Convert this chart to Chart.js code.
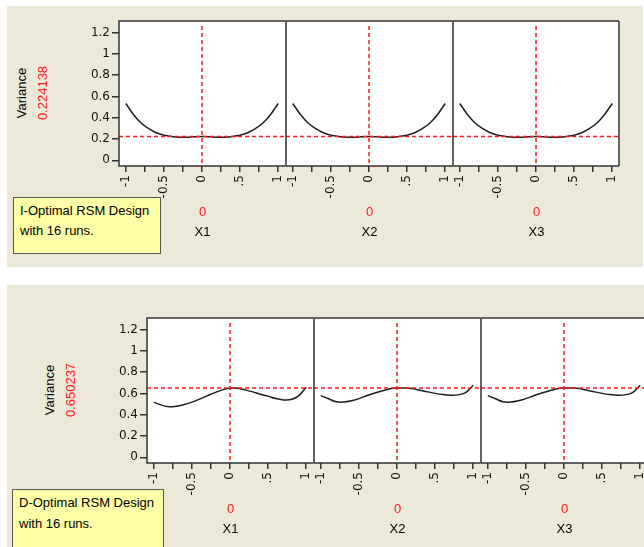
<!doctype html>
<html>
<head>
<meta http-equiv="Content-Type" content="text/html;charset=utf-8" />
<title>Prediction variance profiles</title>
<script src="https://cdn.jsdelivr.net/npm/chart.js@4.4.0/dist/chart.umd.min.js"></script>
<style>
body { margin:0; background:#fff; overflow:hidden; width:644px; height:547px; position:relative;
  font:13px "Liberation Sans", Arial, sans-serif; color:#000; }
.panel { position:absolute; background:#ece9d8; }
.plot { position:absolute; }
.note { position:absolute; background:#ffffa8; border:1px solid #555; box-sizing:border-box; padding-left:6px; }
.lbl { position:absolute; white-space:nowrap; transform:translate(-50%,-50%); }
.rot { transform:translate(-50%,-50%) rotate(-90deg); }
.red { color:#ff1a1a; }
</style>
</head>
<body>

<div class="panel" style="left:7px;top:6px;width:636px;height:261px"></div>
<div class="panel" style="left:7px;top:285px;width:637px;height:262px"></div>

<script>
// factor grid the curves were read at
var xGrid = [-1, -0.9, -0.8, -0.7, -0.6, -0.5, -0.4, -0.3, -0.2, -0.1, 0, 0.1, 0.2, 0.3, 0.4, 0.5, 0.6, 0.7, 0.8, 0.9, 1];

// I-optimal design, prediction variance profile
var iVarX1 = [0.533, 0.43, 0.35, 0.297, 0.259, 0.236, 0.224, 0.217, 0.216, 0.221, 0.224, 0.221, 0.216, 0.217, 0.224, 0.236, 0.259, 0.297, 0.35, 0.43, 0.533];
var iVarX2 = [0.533, 0.43, 0.35, 0.297, 0.259, 0.236, 0.224, 0.217, 0.216, 0.221, 0.224, 0.221, 0.216, 0.217, 0.224, 0.236, 0.259, 0.297, 0.35, 0.43, 0.533];
var iVarX3 = [0.533, 0.43, 0.35, 0.297, 0.259, 0.236, 0.224, 0.217, 0.216, 0.221, 0.224, 0.221, 0.216, 0.217, 0.224, 0.236, 0.259, 0.297, 0.35, 0.43, 0.533];

// D-optimal design, prediction variance profile
var dVarX1 = [0.518, 0.49, 0.474, 0.48, 0.495, 0.518, 0.546, 0.577, 0.607, 0.633, 0.648, 0.648, 0.633, 0.614, 0.592, 0.574, 0.551, 0.539, 0.542, 0.577, 0.658];
var dVarX2 = [0.579, 0.549, 0.521, 0.518, 0.53, 0.551, 0.577, 0.602, 0.623, 0.642, 0.65, 0.65, 0.645, 0.63, 0.614, 0.6, 0.589, 0.583, 0.586, 0.607, 0.677];
var dVarX3 = [0.579, 0.549, 0.521, 0.518, 0.53, 0.551, 0.577, 0.602, 0.623, 0.642, 0.65, 0.65, 0.645, 0.63, 0.614, 0.6, 0.589, 0.583, 0.586, 0.607, 0.677];

var factors = ['X1', 'X2', 'X3'];
var settings = [0, 0, 0];
var iCurrent = 0.224138;
var dCurrent = 0.650237;

var yTickVals = [0, 0.2, 0.4, 0.6, 0.8, 1, 1.2];
var yTickText = ['0', '0.2', '0.4', '0.6', '0.8', '1', '1.2'];
var xTickVals = [-1, -0.75, -0.5, -0.25, 0, 0.25, 0.5, 0.75, 1];
var xTickText = ['-1', '', '-0.5', '', '0', '', '.5', '', '1'];

var X_MIN = -1.09, X_MAX = 1.09, Y_MIN = -0.053, Y_MAX = 1.307;

Chart.defaults.font.family = '"DejaVu Sans", Verdana, sans-serif';
Chart.defaults.font.size = 12;
Chart.defaults.color = '#111';

// white plot box + dark frame (right edge only on the last plot of a row,
// the next plot's left edge is the divider)
var frame = {
  id: 'frame',
  beforeDraw: function(c) {
    var a = c.chartArea, ctx = c.ctx;
    ctx.save();
    ctx.fillStyle = '#fff';
    ctx.fillRect(a.left, a.top, a.right - a.left, a.bottom - a.top);
    ctx.restore();
  },
  afterDraw: function(c, args, opts) {
    var a = c.chartArea, ctx = c.ctx;
    var l = Math.round(a.left), r = Math.round(a.right), t = Math.round(a.top), b = Math.round(a.bottom);
    ctx.save();
    ctx.strokeStyle = '#333';
    ctx.lineWidth = 1.5;
    ctx.beginPath();
    if (opts.last) {
      ctx.moveTo(r, t); ctx.lineTo(r, b);
    }
    ctx.moveTo(r, t); ctx.lineTo(l, t); ctx.lineTo(l, b); ctx.lineTo(r, b);
    ctx.stroke();
    ctx.restore();
  }
};

function addDiv(cls, html, left, top, style) {
  var d = document.createElement('div');
  d.className = cls;
  d.innerHTML = html;
  d.style.left = left + 'px';
  d.style.top = top + 'px';
  if (style) d.style.cssText += style;
  document.body.appendChild(d);
  return d;
}

function makePlot(left, top, w, h, curve, current, setting, withY, last) {
  var padL = 10, padR = 10, padT = 10, xH = 45, yW = withY ? 50 : 0;
  var wrap = document.createElement('div');
  wrap.className = 'plot';
  wrap.style.left = (left - padL - yW) + 'px';
  wrap.style.top = (top - padT) + 'px';
  var cv = document.createElement('canvas');
  cv.width = padL + yW + w + padR;
  cv.height = padT + h + xH;
  wrap.appendChild(cv);
  document.body.appendChild(wrap);

  var pts = xGrid.map(function(x, i) { return { x: x, y: curve[i] }; });

  new Chart(cv.getContext('2d'), {
    type: 'line',
    data: {
      datasets: [
        { data: [{ x: X_MIN, y: current }, { x: X_MAX, y: current }],
          borderColor: '#ff1a1a', borderWidth: 1.5, borderDash: [4, 3], pointRadius: 0 },
        { data: [{ x: setting, y: -0.025 }, { x: setting, y: 1.265 }],
          borderColor: '#ff1a1a', borderWidth: 1.5, borderDash: [4, 3], pointRadius: 0 },
        { data: pts, borderColor: '#1e1e1e', borderWidth: 1.5, pointRadius: 0, tension: 0.3, fill: false }
      ]
    },
    options: {
      responsive: false,
      animation: false,
      events: [],
      layout: { autoPadding: false, padding: { left: padL, right: padR, top: padT, bottom: 0 } },
      plugins: { legend: { display: false }, tooltip: { enabled: false }, frame: { last: last } },
      scales: {
        x: {
          type: 'linear', min: X_MIN, max: X_MAX,
          afterBuildTicks: function(s) { s.ticks = xTickVals.map(function(v) { return { value: v }; }); },
          afterFit: function(s) { s.height = xH; },
          border: { display: false },
          grid: { drawOnChartArea: false, drawTicks: true, tickLength: 6, color: '#333', lineWidth: 1.5 },
          ticks: {
            autoSkip: false, minRotation: 90, maxRotation: 90, padding: 3,
            callback: function(v, i) { return xTickText[i]; }
          }
        },
        y: {
          type: 'linear', min: Y_MIN, max: Y_MAX, display: withY,
          afterBuildTicks: function(s) { s.ticks = yTickVals.map(function(v) { return { value: v }; }); },
          afterFit: function(s) { s.width = yW; },
          border: { display: false },
          grid: { drawOnChartArea: false, drawTicks: true, tickLength: 7, color: '#333', lineWidth: 1.5 },
          ticks: { padding: 2, callback: function(v, i) { return yTickText[i]; } }
        }
      }
    },
    plugins: [frame]
  });

  var cx = left + w / 2;
  addDiv('lbl red', String(setting), cx, top + h + 45);
}

// top panel: I-optimal
var topCurves = [iVarX1, iVarX2, iVarX3];
var topLefts = [119, 286, 453];
topLefts.forEach(function(l, i) {
  makePlot(l, 21, 167, 145, topCurves[i], iCurrent, settings[i], i === 0, i === 2);
  addDiv('lbl', factors[i], l + 83.5, 231);
});
addDiv('lbl rot', 'Variance', 21, 93);
addDiv('lbl rot red', String(iCurrent), 42, 93);
addDiv('note', 'I-Optimal RSM Design<br>with 16 runs.', 13, 197, 'width:148px;height:57px;line-height:20px;padding-top:3px;');

// bottom panel: D-optimal
var botCurves = [dVarX1, dVarX2, dVarX3];
var botLefts = [147, 314, 481];
botLefts.forEach(function(l, i) {
  makePlot(l, 318, 167, 145, botCurves[i], dCurrent, settings[i], i === 0, i === 2);
  addDiv('lbl', factors[i], l + 83.5, 528);
});
addDiv('lbl rot', 'Variance', 49, 390);
addDiv('lbl rot red', String(dCurrent), 70, 390);
addDiv('note', 'D-Optimal RSM Design<br>with 16 runs.', 12, 489, 'width:152px;height:70px;line-height:21px;padding-top:2px;');
</script>

</body>
</html>
